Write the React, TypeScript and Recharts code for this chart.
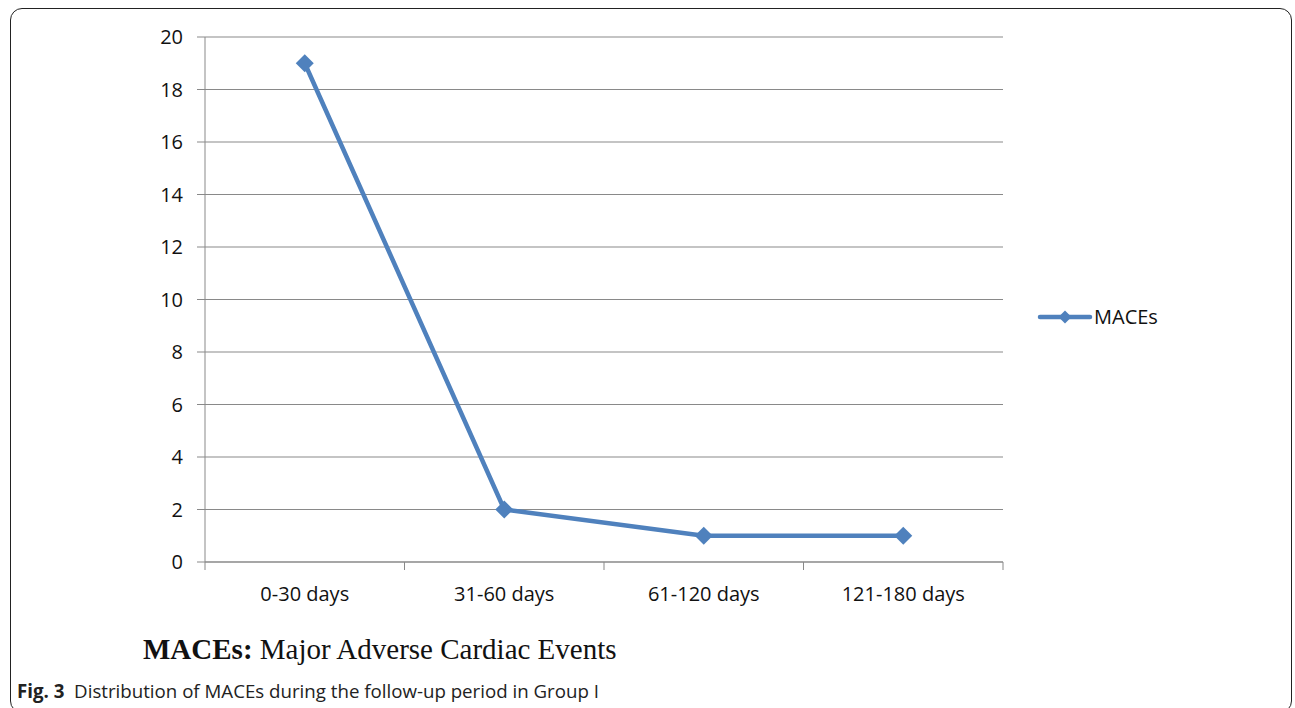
import React from "react";
import { LineChart, Line, XAxis, YAxis, CartesianGrid } from "recharts";

const categories = ["0-30 days", "31-60 days", "61-120 days", "121-180 days"];
const maces = [19, 2, 1, 1];
const yTicks = [0, 2, 4, 6, 8, 10, 12, 14, 16, 18, 20];

const seriesName = "MACEs";
const LINE_COLOR = "#4f81bd";
const GRID_COLOR = "#898989";
const AXIS_FONT = "'Open Sans', 'Noto Sans', sans-serif";

const CHART_W = 1295;
const CHART_H = 620;
const MARGIN = { top: 37, right: 292, bottom: 0, left: 0 };
const Y_AXIS_W = 205;
const BAND = (CHART_W - MARGIN.right - MARGIN.left - Y_AXIS_W) / categories.length;

const data = categories.map((name, i) => ({ name, value: maces[i] }));

// Excel-style diamond marker
const Diamond = ({ cx, cy, size = 9 }: any) => {
  if (cx == null || cy == null) return null;
  return (
    <polygon
      points={`${cx},${cy - size} ${cx + size},${cy} ${cx},${cy + size} ${cx - size},${cy}`}
      fill={LINE_COLOR}
    />
  );
};

// category labels centered, tick marks on the band boundaries
const CategoryTick = ({ x, y, payload, index }: any) => {
  const left = x - BAND / 2;
  const right = x + BAND / 2;
  const top = y - 8;
  return (
    <g>
      <line x1={left} x2={left} y1={top} y2={top + 8} stroke={GRID_COLOR} strokeWidth={1} />
      {index === categories.length - 1 && (
        <line x1={right} x2={right} y1={top} y2={top + 8} stroke={GRID_COLOR} strokeWidth={1} />
      )}
      <text
        x={x}
        y={y + 31}
        textAnchor="middle"
        fill="#111"
        fontSize={20}
        fontFamily={AXIS_FONT}
      >
        {payload.value}
      </text>
    </g>
  );
};

export default function App() {
  return (
    <div style={{ position: "absolute", left: 0, top: 0, width: 1295, height: 708, background: "#fff", overflow: "hidden" }}>
      <div
        style={{
          position: "absolute",
          left: 10,
          top: 8,
          width: 1282,
          height: 705,
          border: "1px solid #222",
          borderRadius: 12,
          boxSizing: "border-box",
        }}
      />
      <div style={{ position: "absolute", left: 0, top: 0 }}>
        <LineChart width={CHART_W} height={CHART_H} data={data} margin={MARGIN}>
          <CartesianGrid vertical={false} stroke={GRID_COLOR} strokeWidth={1} />
          <XAxis
            dataKey="name"
            scale="band"
            height={58}
            axisLine={{ stroke: GRID_COLOR }}
            tickLine={false}
            tickSize={8}
            tickMargin={0}
            interval={0}
            tick={<CategoryTick />}
          />
          <YAxis
            width={Y_AXIS_W}
            domain={[0, 20]}
            ticks={yTicks}
            interval={0}
            axisLine={{ stroke: GRID_COLOR }}
            tickLine={{ stroke: GRID_COLOR }}
            tickSize={8}
            tickMargin={14}
            tick={{ fill: "#111", fontSize: 20, fontFamily: AXIS_FONT }}
          />
          <Line
            dataKey="value"
            name={seriesName}
            stroke={LINE_COLOR}
            strokeWidth={4.5}
            dot={(p: any) => <Diamond key={`d-${p.index}`} cx={p.cx} cy={p.cy} size={9} />}
            activeDot={false}
            isAnimationActive={false}
          />
        </LineChart>
      </div>
      <svg style={{ position: "absolute", left: 1036, top: 303 }} width={140} height={30}>
        <line x1={4} x2={54} y1={14} y2={14} stroke={LINE_COLOR} strokeWidth={4.5} strokeLinecap="round" />
        <Diamond cx={29} cy={14} size={6.5} />
        <text x={58} y={21} fontSize={20} fontFamily={AXIS_FONT} fill="#111">
          {seriesName}
        </text>
      </svg>
      <div
        style={{
          position: "absolute",
          left: 143,
          top: 633,
          fontFamily: "'Liberation Serif', 'Times New Roman', serif",
          fontSize: 29,
          color: "#111",
          whiteSpace: "nowrap",
        }}
      >
        <b>MACEs:</b> Major Adverse Cardiac Events
      </div>
      <div
        style={{
          position: "absolute",
          left: 17,
          top: 678,
          fontFamily: "'Open Sans', 'Noto Sans', sans-serif",
          fontSize: 18.7,
          color: "#222",
          whiteSpace: "nowrap",
        }}
      >
        <b>Fig. 3</b>&nbsp;&nbsp;Distribution of MACEs during the follow-up period in Group I
      </div>
    </div>
  );
}
